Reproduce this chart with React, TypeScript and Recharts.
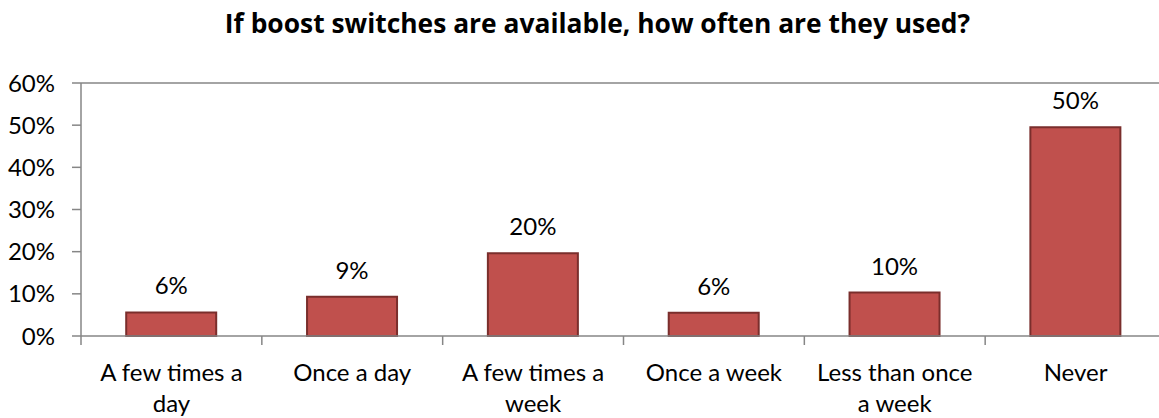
import React from 'react';
import { BarChart, Bar, XAxis, YAxis, LabelList, ReferenceLine } from 'recharts';

// Survey answers: how often boost switches get used when they are fitted
const categories = [
  'A few times a day',
  'Once a day',
  'A few times a week',
  'Once a week',
  'Less than once a week',
  'Never',
];
// Wrapped category labels as they appear under the axis
const categoryLines = [
  ['A few times a', 'day'],
  ['Once a day'],
  ['A few times a', 'week'],
  ['Once a week'],
  ['Less than once', 'a week'],
  ['Never'],
];
// Share of respondents, in percent
const shares = [5.6, 9.3, 19.6, 5.5, 10.3, 49.5];
const yTicks = [0, 10, 20, 30, 40, 50, 60];
const title = 'If boost switches are available, how often are they used?';

const data = categories.map((category, i) => ({ category, share: shares[i] }));

const FONT = 'Lato, "Open Sans", sans-serif';
const TITLE_FONT = '"Open Sans", Lato, sans-serif';
const AXIS_GREY = '#868686';
const BAR_FILL = '#C0504D';
const BAR_EDGE = '#7A2E2C';

const CategoryTick = (props: any) => {
  const { x, y, payload, index } = props;
  const half = payload?.offset ?? 90.4;
  const lines = categoryLines[index] ?? [String(payload?.value ?? '')];
  return (
    <g>
      <line x1={x - half} x2={x - half} y1={y} y2={y + 9} stroke={AXIS_GREY} strokeWidth={1.5} />
      {index === categories.length - 1 && (
        <line x1={x + half} x2={x + half} y1={y} y2={y + 9} stroke={AXIS_GREY} strokeWidth={1.5} />
      )}
      {lines.map((line, i) => (
        <text
          key={i}
          x={x}
          y={y + 44.5 + i * 31.5}
          textAnchor="middle"
          fontFamily={FONT}
          fontSize={24}
          fill="#000"
        >
          {line}
        </text>
      ))}
    </g>
  );
};

export default function App() {
  return (
    <div
      style={{
        position: 'absolute',
        left: 0,
        top: 0,
        width: 1159,
        height: 418,
        overflow: 'hidden',
        background: '#fff',
      }}
    >
      <BarChart
        width={1180}
        height={418}
        data={data}
        margin={{ top: 83, right: 14, bottom: 0, left: 0 }}
        barCategoryGap="25%"
      >
        <ReferenceLine y={60} stroke={AXIS_GREY} strokeWidth={1.5} />
        <XAxis
          dataKey="category"
          height={82}
          interval={0}
          tickLine={false}
          tickSize={0}
          tickMargin={0}
          axisLine={{ stroke: AXIS_GREY, strokeWidth: 1.5 }}
          tick={<CategoryTick />}
        />
        <YAxis
          width={81}
          domain={[0, 60]}
          ticks={yTicks}
          interval={0}
          tickFormatter={(v: number) => `${v}%`}
          tickSize={9}
          tickMargin={17}
          axisLine={{ stroke: AXIS_GREY, strokeWidth: 1.5 }}
          tickLine={{ stroke: AXIS_GREY, strokeWidth: 1.5 }}
          tick={{ fontFamily: FONT, fontSize: 24, fill: '#000' }}
        />
        <Bar
          dataKey="share"
          fill={BAR_FILL}
          stroke={BAR_EDGE}
          strokeWidth={2}
          isAnimationActive={false}
        >
          <LabelList
            dataKey="share"
            position="top"
            offset={18}
            formatter={(v: any) => `${Math.round(Number(v))}%`}
            style={{ fontFamily: FONT, fontSize: 24, fill: '#000' }}
          />
        </Bar>
      </BarChart>
      <svg
        width={1159}
        height={418}
        style={{ position: 'absolute', left: 0, top: 0, pointerEvents: 'none' }}
      >
        <text
          x={597.5}
          y={32.5}
          textAnchor="middle"
          fontFamily={TITLE_FONT}
          fontWeight="bold"
          fontSize={26.4}
          fill="#000"
        >
          {title}
        </text>
      </svg>
    </div>
  );
}
